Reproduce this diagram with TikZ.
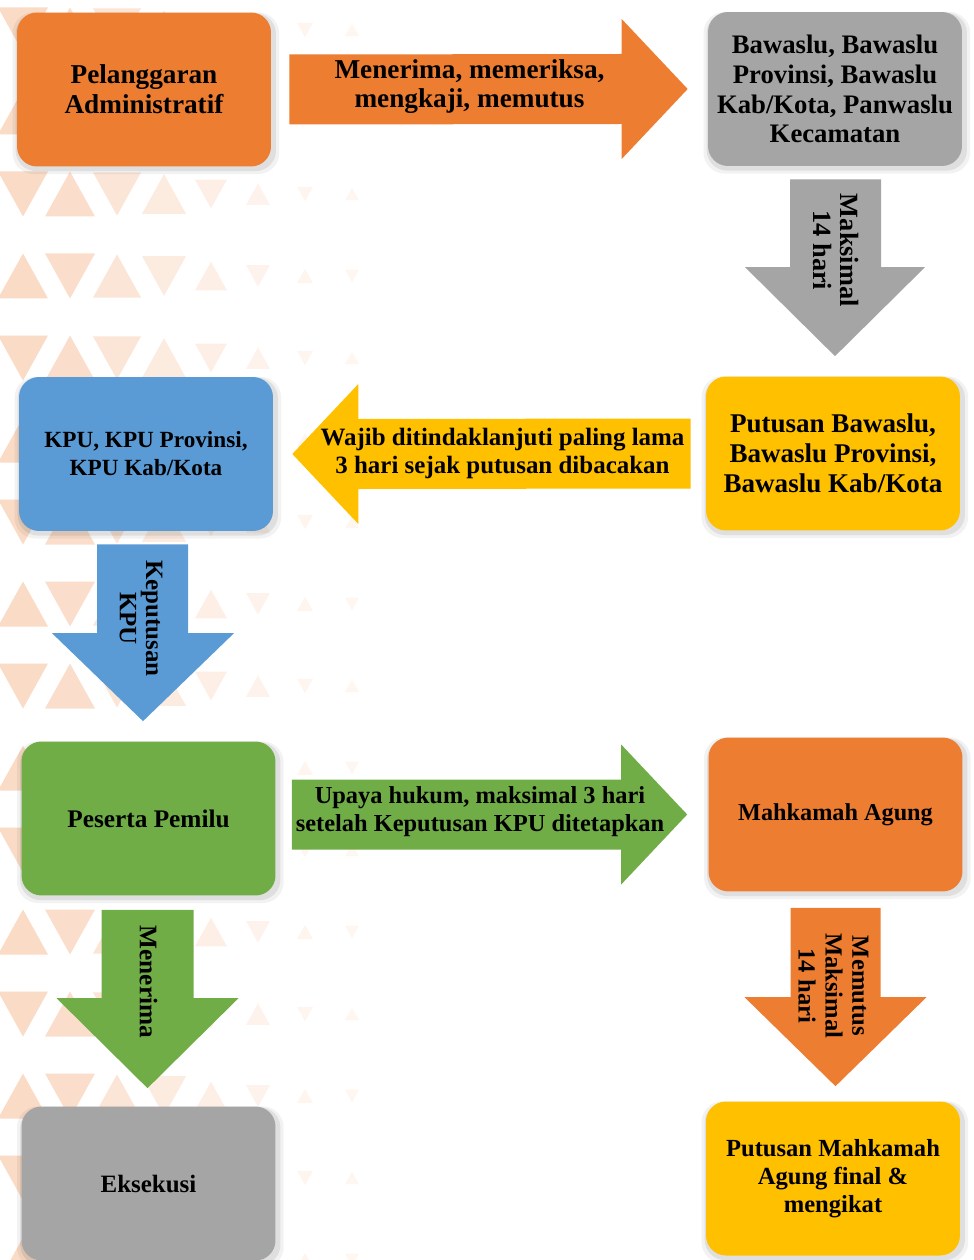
\documentclass[tikz,border=0pt]{standalone}
\usepackage{fontspec}
\setmainfont{Liberation Serif}
\usepackage{xcolor}
\usepackage{tikz}
\usetikzlibrary{calc,positioning,shadows}
\definecolor{kpuorange}{HTML}{ED7D31}
\definecolor{kpugray}{HTML}{A5A5A5}
\definecolor{kpuyellow}{HTML}{FFC000}
\definecolor{kpublue}{HTML}{5B9BD5}
\definecolor{kpugreen}{HTML}{70AD47}
\newcommand{\bsz}[2]{\fontsize{#1}{#2}\selectfont\bfseries}
\tikzset{
  stagebox/.style={
    rectangle, rounded corners=0.4cm, fill=#1,
    minimum width=5.08cm, minimum height=3.08cm,
    align=center, inner sep=2pt,
    general shadow={fill=black, opacity=.05, shadow scale=1.05,
      shadow xshift=1pt, shadow yshift=-2pt},
    general shadow={fill=black, opacity=.08, shadow scale=1.025,
      shadow xshift=1pt, shadow yshift=-1.5pt}
  },
  stagebox/.default=kpuorange,
  flowarrow/.style={fill=#1, draw=none},
  flowarrow/.default=kpuorange,
  flowlabel/.style={align=center, inner sep=0pt},
  downlabel/.style={flowlabel, rotate=-90},
  bgtri/.style={fill=kpuorange, draw=none},
}

\begin{document}
\begin{tikzpicture}[x=0.02cm, y=-0.02cm]
  \useasboundingbox (0,0) rectangle (973,1260);

  % faint triangle lattice behind the left column
  \foreach \r in {0,...,15}{
    \foreach \c/\w/\o in {0/25/28, 1/25/25, 2/24/20, 3/22/15, 4/16/12, 5/12/9, 6/8/8, 7/7/7}{
      \pgfmathsetmacro\dir{mod(\r+\c,2)==1 ? 1 : -1}
      \pgfmathsetmacro\xc{23+47*\c}
      \pgfmathsetmacro\yc{30+82*\r}
      \pgfmathsetmacro\hh{0.9*\w*\dir}
      \fill[bgtri, fill opacity=\o/100] (\xc-\w,\yc+\hh) -- (\xc+\w,\yc+\hh) -- (\xc,\yc-\hh) -- cycle;
    }
  }

  % stages
  \node[stagebox=kpuorange, font=\bsz{15.5}{17}] (pel) at (144,89.5) {Pelanggaran\\Administratif};
  \node[stagebox=kpugray, font=\bsz{15.2}{17}] (baw) at (835,89) {Bawaslu, Bawaslu\\Provinsi, Bawaslu\\Kab/Kota, Panwaslu\\Kecamatan};
  \node[stagebox=kpuyellow, font=\bsz{15.4}{17}] (pb) at (833,453.5) {Putusan Bawaslu,\\Bawaslu Provinsi,\\Bawaslu Kab/Kota};
  \node[stagebox=kpublue, font=\bsz{13.2}{15.9}] (kpu) at (146,454) {KPU, KPU Provinsi,\\KPU Kab/Kota};
  \node[stagebox=kpugreen, font=\bsz{14.4}{16}] (pes) at (148.5,818.5) {Peserta Pemilu};
  \node[stagebox=kpuorange, font=\bsz{13.8}{16}] (ma) at (835.5,814.5) {Mahkamah Agung};
  \node[stagebox=kpuyellow, font=\bsz{14}{15.9}] (pma) at (833,1178.5) {Putusan Mahkamah\\Agung final \&\\mengikat};
  \node[stagebox=kpugray, font=\bsz{14.2}{16}] (eks) at (148.5,1183.5) {Eksekusi};

  % Pelanggaran -> Bawaslu
  \fill[flowarrow=kpuorange] ($(pel.east)+(18,-35)$) -- ($(baw.west)+(-86,-35)$) -- ($(baw.west)+(-86,-70)$)
    -- ($(baw.west)+(-20,0)$) -- ($(baw.west)+(-86,70)$) -- ($(baw.west)+(-86,35)$) -- ($(pel.east)+(18,35)$) -- cycle;
  \node[flowlabel, font=\bsz{15.5}{16.4}] (lblperiksa) at ($(pel.east)!0.5!(baw.west)+(-20,-3)$) {Menerima, memeriksa,\\mengkaji, memutus};

  % Bawaslu -> Putusan Bawaslu
  \coordinate (gtip) at (baw.south |- pb.north);
  \fill[flowarrow=kpugray] ($(baw.south)+(-45,13)$) -- ($(gtip)+(-45,-109)$) -- ($(gtip)+(-90,-109)$)
    -- ($(gtip)+(0,-20)$) -- ($(gtip)+(90,-109)$) -- ($(gtip)+(46,-109)$) -- ($(baw.south)+(46,13)$) -- cycle;
  \node[downlabel, font=\bsz{15}{15.9}] (lblmaks) at ($(baw.south)+(1,84)$) {Maksimal\\14 hari};

  % Putusan Bawaslu -> KPU
  \fill[flowarrow=kpuyellow] ($(pb.west)+(-15,-35)$) -- ($(kpu.east)+(85,-35)$) -- ($(kpu.east)+(85,-70)$)
    -- ($(kpu.east)+(19,0)$) -- ($(kpu.east)+(85,70)$) -- ($(kpu.east)+(85,35)$) -- ($(pb.west)+(-15,35)$) -- cycle;
  \node[flowlabel, font=\bsz{14.2}{15.9}] (lblwajib) at ($(kpu.east)!0.5!(pb.west)+(13,0)$) {Wajib ditindaklanjuti paling lama\\3 hari sejak putusan dibacakan};

  % KPU -> Peserta Pemilu
  \coordinate (btip) at ($(kpu.south |- pes.north)+(-3,0)$);
  \fill[flowarrow=kpublue] ($(kpu.south)+(-49,13)$) -- ($(btip)+(-46,-108)$) -- ($(btip)+(-91,-108)$)
    -- ($(btip)+(0,-20)$) -- ($(btip)+(91,-108)$) -- ($(btip)+(45,-108)$) -- ($(kpu.south)+(42,13)$) -- cycle;
  \node[downlabel, font=\bsz{14.2}{15}] (lblkeputusan) at ($(kpu.south)+(-5,87)$) {Keputusan\\KPU};

  % Peserta Pemilu -> Mahkamah Agung
  \fill[flowarrow=kpugreen] ($(pes.east |- ma.west)+(16,-35)$) -- ($(ma.west)+(-87,-35)$) -- ($(ma.west)+(-87,-70)$)
    -- ($(ma.west)+(-21,0)$) -- ($(ma.west)+(-87,70)$) -- ($(ma.west)+(-87,35)$) -- ($(pes.east |- ma.west)+(16,35)$) -- cycle;
  \node[flowlabel, font=\bsz{13.9}{15.9}] (lblupaya) at ($(pes.east |- ma.west)!0.5!(ma.west)+(-12,-3)$) {Upaya hukum, maksimal 3 hari\\setelah Keputusan KPU ditetapkan};

  % Mahkamah Agung -> Putusan Mahkamah Agung
  \coordinate (otip) at (ma.south |- pma.north);
  \fill[flowarrow=kpuorange] ($(ma.south)+(-45,16)$) -- ($(otip)+(-45,-104)$) -- ($(otip)+(-91,-104)$)
    -- ($(otip)+(0,-15)$) -- ($(otip)+(91,-104)$) -- ($(otip)+(45,-104)$) -- ($(ma.south)+(45,16)$) -- cycle;
  \node[downlabel, font=\bsz{14}{15.3}] (lblmemutus) at ($(ma.south)+(-2,94)$) {Memutus\\Maksimal\\14 hari};

  % Peserta Pemilu -> Eksekusi
  \coordinate (etip) at ($(pes.south |- eks.north)+(-1,0)$);
  \fill[flowarrow=kpugreen] ($(pes.south)+(-47,14)$) -- ($(etip)+(-46,-108)$) -- ($(etip)+(-91,-108)$)
    -- ($(etip)+(0,-18)$) -- ($(etip)+(91,-108)$) -- ($(etip)+(46,-108)$) -- ($(pes.south)+(45,14)$) -- cycle;
  \node[downlabel, font=\bsz{14.4}{16}] (lblmenerima) at ($(pes.south)+(0,86)$) {Menerima};
\end{tikzpicture}
\end{document}
